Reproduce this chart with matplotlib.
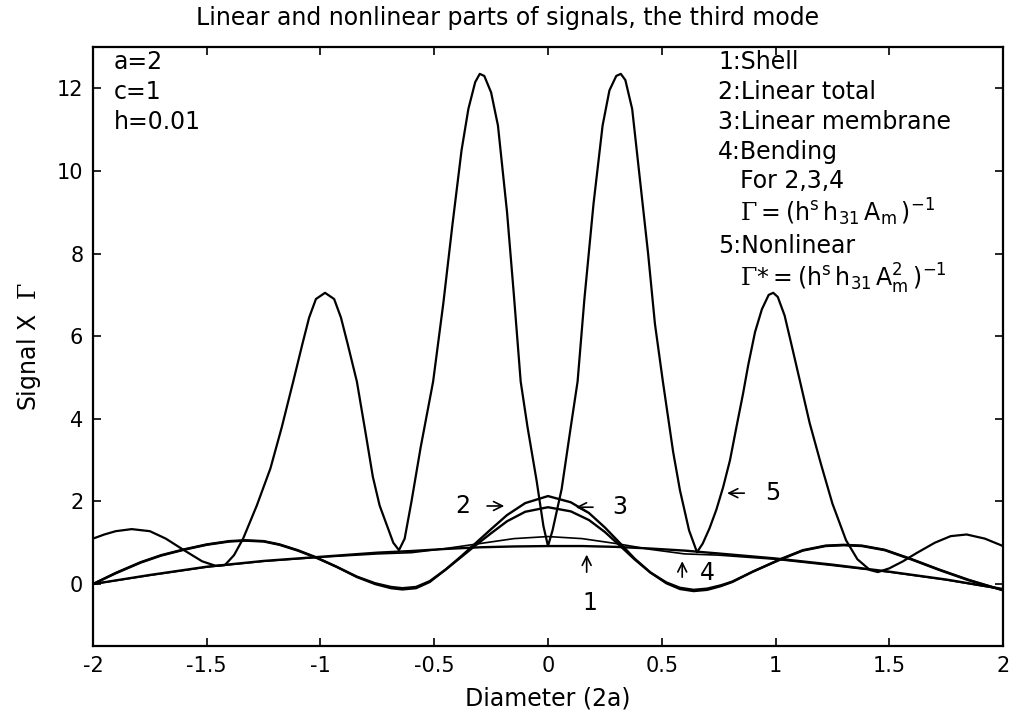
import numpy as np
import matplotlib
matplotlib.use("Agg")
import matplotlib.pyplot as plt

plt.rcParams['font.family'] = ['DejaVu Sans']
plt.rcParams['mathtext.fontset'] = 'custom'
plt.rcParams['mathtext.rm'] = 'DejaVu Sans'
plt.rcParams['mathtext.it'] = 'DejaVu Sans'
plt.rcParams['mathtext.sf'] = 'DejaVu Serif'

# ---- data ----
# 5: nonlinear
x_nonlin = [-2.00, -1.95, -1.90, -1.83, -1.75, -1.68, -1.60, -1.52, -1.46, -1.42,
            -1.38, -1.34, -1.28, -1.22, -1.17, -1.12, -1.08, -1.05, -1.02, -0.98,
            -0.94, -0.91, -0.88, -0.84, -0.80, -0.77, -0.74, -0.71, -0.68, -0.655,
            -0.63, -0.60, -0.56, -0.505, -0.46, -0.42, -0.38, -0.35, -0.32, -0.30,
            -0.28, -0.25, -0.22, -0.18, -0.15, -0.12, -0.09, -0.05, -0.02, 0.00,
            0.02, 0.06, 0.10, 0.13, 0.16, 0.20, 0.24, 0.27, 0.30, 0.32,
            0.34, 0.37, 0.40, 0.44, 0.47, 0.505, 0.55, 0.58, 0.62, 0.655,
            0.68, 0.71, 0.74, 0.77, 0.80, 0.83, 0.857, 0.88, 0.91, 0.94,
            0.97, 0.99, 1.01, 1.04, 1.07, 1.108, 1.15, 1.20, 1.25, 1.31,
            1.36, 1.415, 1.45, 1.50, 1.56, 1.62, 1.70, 1.77, 1.84, 1.92, 2.00]
y_nonlin = [1.10, 1.20, 1.28, 1.33, 1.28, 1.10, 0.82, 0.55, 0.44, 0.46,
            0.70, 1.10, 1.90, 2.80, 3.80, 4.90, 5.80, 6.45, 6.90, 7.05,
            6.90, 6.45, 5.80, 4.90, 3.60, 2.60, 1.90, 1.45, 1.00, 0.82,
            1.10, 2.00, 3.30, 4.90, 6.80, 8.70, 10.5, 11.5, 12.15, 12.35,
            12.30, 11.9, 11.1, 9.0, 7.0, 4.90, 3.80, 2.50, 1.40, 0.92,
            1.30, 2.30, 3.80, 4.90, 6.90, 9.20, 11.1, 11.95, 12.30, 12.35,
            12.20, 11.5, 10.0, 8.0, 6.3, 4.90, 3.20, 2.27, 1.30, 0.77,
            0.98, 1.35, 1.80, 2.35, 3.00, 3.85, 4.60, 5.30, 6.10, 6.65,
            7.00, 7.05, 6.95, 6.50, 5.80, 4.90, 3.90, 2.90, 1.95, 1.06,
            0.60, 0.34, 0.29, 0.38, 0.55, 0.75, 1.00, 1.16, 1.20, 1.10, 0.92]

# 2: linear total
x_lintot = [-2.00, -1.90, -1.79, -1.70, -1.60, -1.50, -1.40, -1.33, -1.25, -1.18,
            -1.10, -1.02, -0.93, -0.84, -0.76, -0.69, -0.64, -0.58, -0.52, -0.45,
            -0.38, -0.32, -0.25, -0.18, -0.10, 0.00, 0.10, 0.18, 0.25, 0.32,
            0.38, 0.45, 0.52, 0.58, 0.64, 0.70, 0.76, 0.81, 0.90, 1.02,
            1.12, 1.22, 1.30, 1.38, 1.48, 1.60, 1.72, 1.85, 2.00]
y_lintot = [0.00, 0.27, 0.53, 0.70, 0.84, 0.96, 1.04, 1.06, 1.04, 0.96,
            0.82, 0.65, 0.42, 0.17, 0.00, -0.10, -0.13, -0.10, 0.05, 0.35,
            0.68, 0.98, 1.33, 1.67, 1.96, 2.13, 1.98, 1.72, 1.37, 0.97,
            0.62, 0.28, 0.02, -0.12, -0.17, -0.14, -0.05, 0.05, 0.30, 0.60,
            0.82, 0.93, 0.95, 0.93, 0.83, 0.60, 0.35, 0.10, -0.15]

# 3: linear membrane
y_linmem = [0.00, 0.26, 0.52, 0.69, 0.83, 0.95, 1.03, 1.05, 1.03, 0.95,
            0.81, 0.64, 0.42, 0.18, 0.02, -0.07, -0.10, -0.07, 0.07, 0.35,
            0.66, 0.93, 1.23, 1.52, 1.75, 1.86, 1.76, 1.55, 1.26, 0.91,
            0.60, 0.28, 0.04, -0.09, -0.14, -0.11, -0.03, 0.06, 0.30, 0.59,
            0.81, 0.92, 0.94, 0.92, 0.82, 0.59, 0.34, 0.09, -0.15]

# 1: shell, 4: bending
x_flat = [-2.00, -1.75, -1.50, -1.25, -1.00, -0.75, -0.60, -0.45, -0.30, -0.15,
          0.00, 0.15, 0.30, 0.45, 0.60, 0.75, 1.00, 1.25, 1.50, 1.75, 2.00]
y_shell = [0.00, 0.22, 0.42, 0.56, 0.66, 0.76, 0.80, 0.85, 0.89, 0.91,
           0.92, 0.92, 0.90, 0.86, 0.81, 0.74, 0.62, 0.47, 0.30, 0.11, -0.12]
y_bend = [0.00, 0.21, 0.41, 0.55, 0.65, 0.73, 0.76, 0.86, 0.98, 1.10,
          1.15, 1.10, 0.98, 0.84, 0.73, 0.70, 0.60, 0.45, 0.29, 0.10, -0.13]

x_ticks = [-2, -1.5, -1, -0.5, 0, 0.5, 1, 1.5, 2]
x_ticklabels = ['-2', '-1.5', '-1', '-0.5', '0', '0.5', '1', '1.5', '2']
y_ticks = [0, 2, 4, 6, 8, 10, 12]

fig = plt.figure(figsize=(10.15, 7.19), dpi=100)
ax = fig.add_axes([0.0916, 0.1015, 0.8966, 0.8331])

ax.plot(x_nonlin, y_nonlin, 'k-', lw=1.6)
ax.plot(x_lintot, y_lintot, 'k-', lw=1.7)
ax.plot(x_lintot, y_linmem, 'k-', lw=1.7)
ax.plot(x_flat, y_shell, 'k-', lw=1.7)
ax.plot(x_flat, y_bend, 'k-', lw=1.2)

ax.set_xlim(-2, 2)
ax.set_ylim(-1.5, 13)
ax.set_xticks(x_ticks)
ax.set_xticklabels(x_ticklabels)
ax.set_yticks(y_ticks)
ax.tick_params(direction='in', top=True, right=True, length=6, width=1.2,
               labelsize=15, pad=7)
for s in ax.spines.values():
    s.set_linewidth(1.6)

fs = 17
# title is centred on the figure, not on the axes
fig.text(0.5, 0.975, 'Linear and nonlinear parts of signals, the third mode',
         fontsize=fs, ha='center', va='center')
ax.set_xlabel('Diameter (2a)', fontsize=fs, labelpad=8)
ax.set_ylabel(r'Signal X  $\mathsf{\Gamma}$', fontsize=fs, labelpad=10)

# parameters, top left
ax.text(-1.908, 12.63, 'a=2', fontsize=fs, va='center')
ax.text(-1.908, 11.90, 'c=1', fontsize=fs, va='center')
ax.text(-1.908, 11.18, 'h=0.01', fontsize=fs, va='center')

# curve key, top right
ax.text(0.747, 12.63, '1:Shell', fontsize=fs, va='center')
ax.text(0.747, 11.90, '2:Linear total', fontsize=fs, va='center')
ax.text(0.747, 11.18, '3:Linear membrane', fontsize=fs, va='center')
ax.text(0.747, 10.45, '4:Bending', fontsize=fs, va='center')
ax.text(0.844, 9.75, 'For 2,3,4', fontsize=fs, va='center')
ax.text(0.844, 9.00, r'$\mathsf{\Gamma}\mathrm{=(h^{s}\,h_{31}\,A_{m}\,)^{-1}}$',
        fontsize=fs, va='center')
ax.text(0.747, 8.18, '5:Nonlinear', fontsize=fs, va='center')
ax.text(0.844, 7.38, r'$\mathsf{\Gamma}\mathrm{{*}=(h^{s}\,h_{31}\,A_{m}^{2}\,)^{-1}}$',
        fontsize=fs, va='center')

# curve labels with arrows
arr = dict(arrowstyle='->', lw=1.2, color='k', mutation_scale=16)
ax.text(-0.374, 1.89, '2', fontsize=fs, ha='center', va='center')
ax.annotate('', xy=(-0.18, 1.89), xytext=(-0.28, 1.89), arrowprops=arr)
ax.text(0.316, 1.86, '3', fontsize=fs, ha='center', va='center')
ax.annotate('', xy=(0.11, 1.86), xytext=(0.21, 1.86), arrowprops=arr)
ax.text(0.185, -0.46, '1', fontsize=fs, ha='center', va='center')
ax.annotate('', xy=(0.17, 0.78), xytext=(0.17, 0.22), arrowprops=arr)
ax.text(0.70, 0.27, '4', fontsize=fs, ha='center', va='center')
ax.annotate('', xy=(0.59, 0.62), xytext=(0.59, 0.10), arrowprops=arr)
ax.text(0.99, 2.2, '5', fontsize=fs, ha='center', va='center')
ax.annotate('', xy=(0.775, 2.2), xytext=(0.875, 2.2), arrowprops=arr)

fig.savefig('out.png', dpi=100)
